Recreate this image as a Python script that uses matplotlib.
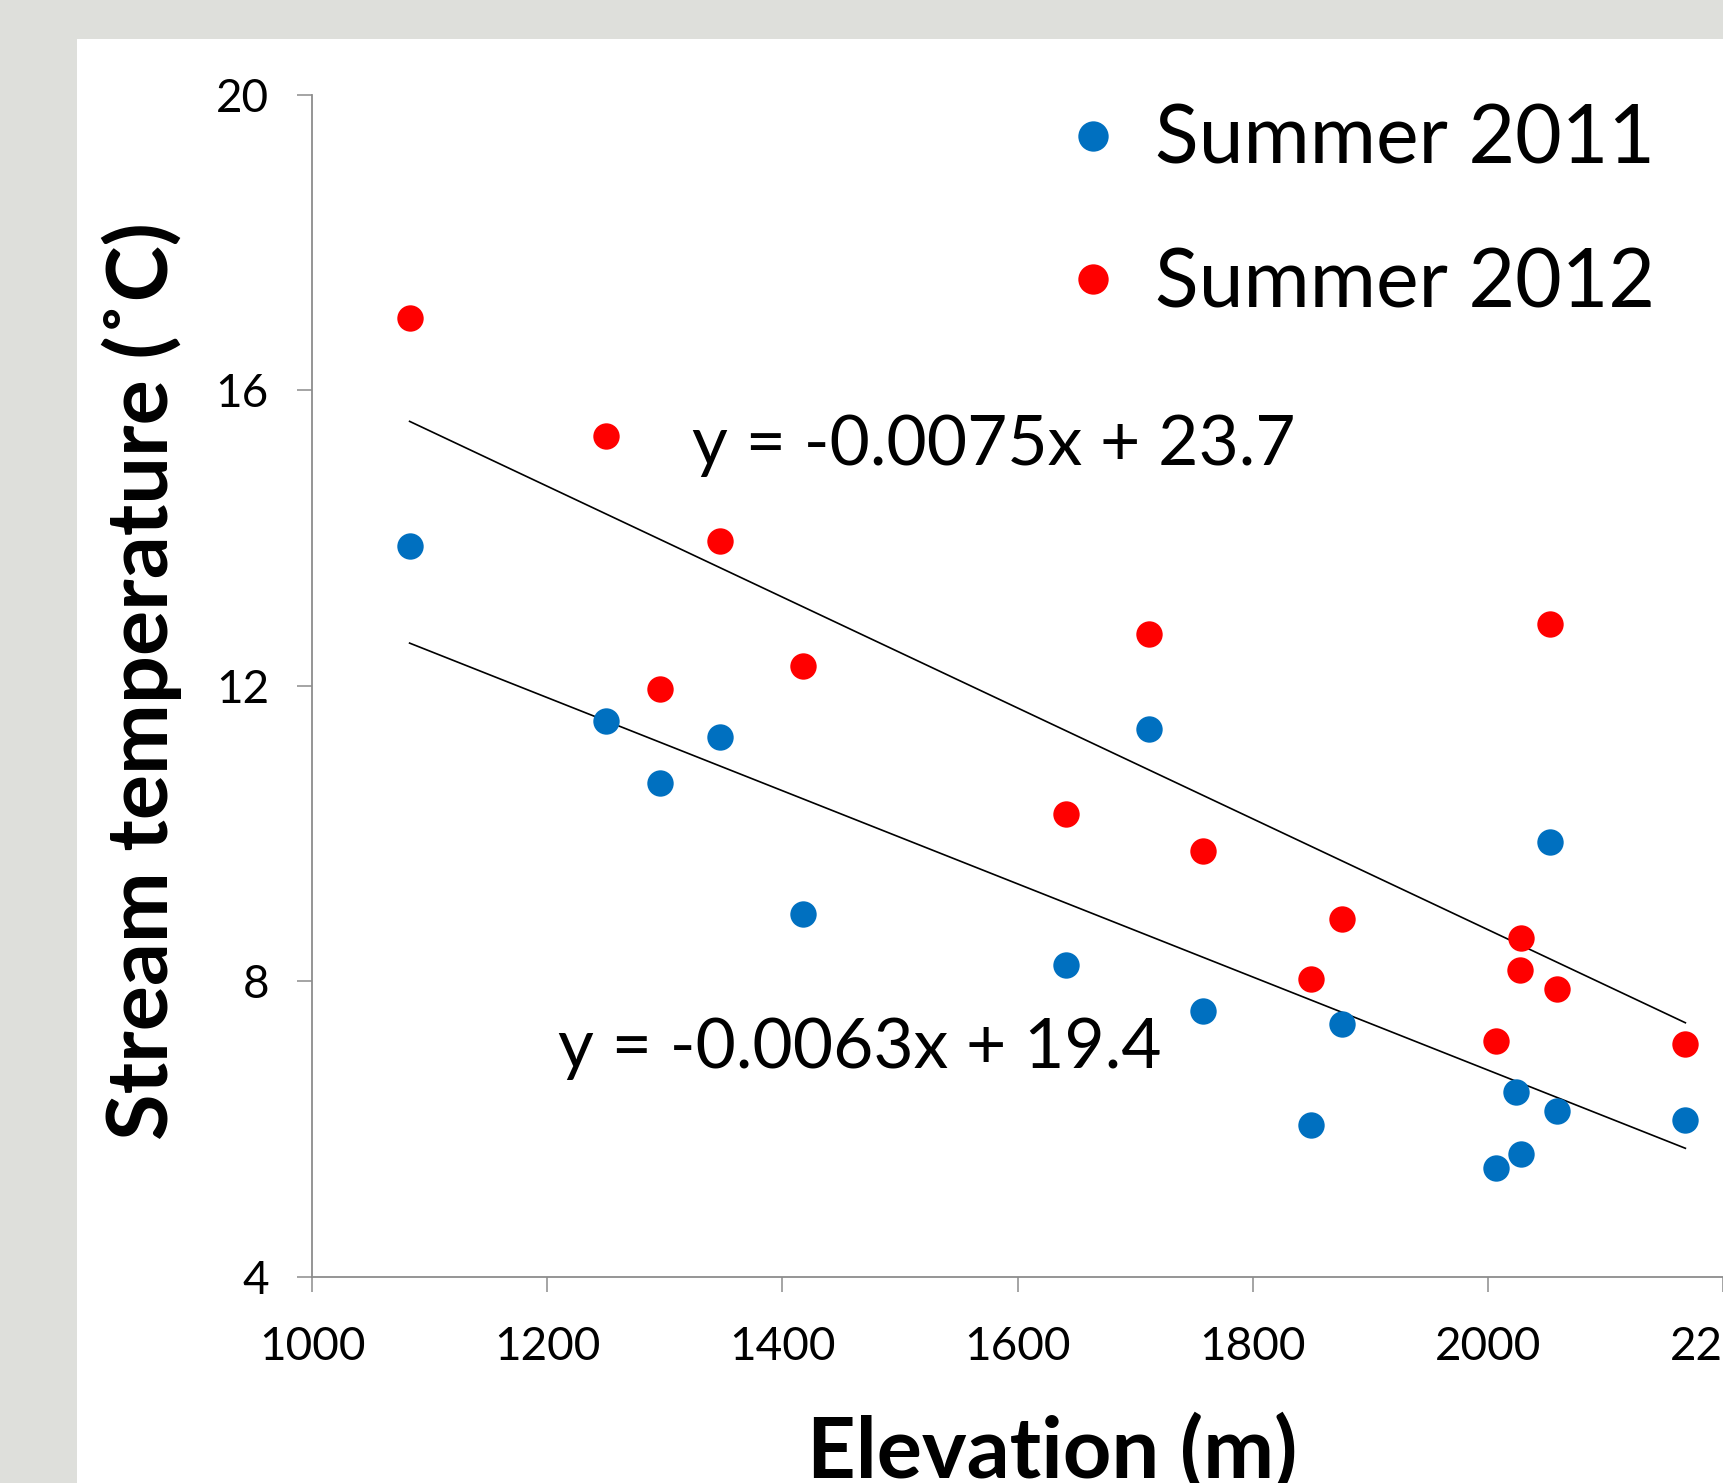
import numpy as np
import matplotlib
matplotlib.use("Agg")
import matplotlib.pyplot as plt
from matplotlib.patches import Rectangle

plt.rcParams['font.family'] = ['Lato', 'DejaVu Sans']

# ---- data ----
elev_2011 = [1083, 1250, 1296, 1347, 1418, 1641, 1712, 1758, 1850, 1876,
             2007, 2024, 2028, 2053, 2059, 2168]
temp_2011 = [13.89, 11.52, 10.69, 11.30, 8.91, 8.22, 11.41, 7.60, 6.05, 7.43,
             5.47, 6.50, 5.67, 9.89, 6.25, 6.13]
elev_2012 = [1083, 1250, 1296, 1347, 1418, 1641, 1712, 1758, 1850, 1876,
             2007, 2027, 2028, 2053, 2059, 2168]
temp_2012 = [16.98, 15.38, 11.96, 13.96, 12.27, 10.26, 12.70, 9.77, 8.03, 8.85,
             7.20, 8.16, 8.59, 12.83, 7.90, 7.15]
series_labels = ["Summer 2011", "Summer 2012"]
fit_2011 = (-0.0063, 19.4)
fit_2012 = (-0.0075, 23.7)
eq_2011 = "y = -0.0063x + 19.4"
eq_2012 = "y = -0.0075x + 23.7"
x_ticks = [1000, 1200, 1400, 1600, 1800, 2000, 2200]
y_ticks = [4, 8, 12, 16, 20]
x_label = "Elevation (m)"
y_label = "Stream temperature (˚C)"

blue = "#0070C0"
red = "#FF0000"

W, H = 1723, 1483
fig = plt.figure(figsize=(W / 100, H / 100), dpi=100)
fig.patch.set_facecolor("#dedfdb")

bg = fig.add_axes([0, 0, 1, 1], zorder=-5)
bg.set_axis_off()
bg.set_xlim(0, 1)
bg.set_ylim(0, 1)
bg.add_patch(Rectangle((77 / W, 0), 1 - 77 / W, 1 - 39 / H,
                       facecolor="white", edgecolor="none"))

ax = fig.add_axes([312 / W, 206 / H, 1 - 312 / W, (1277 - 94.5) / H], zorder=1)
ax.set_facecolor("none")

ms = 19
ax.plot(elev_2011, temp_2011, 'o', color=blue, ms=ms, mec='none',
        label=series_labels[0], zorder=3, clip_on=False)
ax.plot(elev_2012, temp_2012, 'o', color=red, ms=ms, mec='none',
        label=series_labels[1], zorder=3, clip_on=False)

for ex, (m, b) in ((elev_2011, fit_2011), (elev_2012, fit_2012)):
    xs = np.array([min(ex), max(ex)])
    ax.plot(xs, m * xs + b, color='black', lw=1.2, zorder=2)

ax.text(1323, 14.99, eq_2012, fontsize=50, va='baseline', ha='left')
ax.text(1209, 6.83, eq_2011, fontsize=50, va='baseline', ha='left')

ax.set_xlim(1000, 2200)
ax.set_ylim(4, 20)
ax.set_xticks(x_ticks)
ax.set_yticks(y_ticks)
for s in ('top', 'right'):
    ax.spines[s].set_visible(False)
for s in ('left', 'bottom'):
    ax.spines[s].set_color('#8c8c8c')
    ax.spines[s].set_linewidth(1.3)
ax.tick_params(axis='both', direction='out', length=11, width=1.1,
               color='#8c8c8c', labelsize=33)
ax.tick_params(axis='y', pad=20)
ax.tick_params(axis='x', pad=24)

leg = ax.legend(loc='upper right', bbox_to_anchor=(1655 / W, 1 - 104 / H),
                bbox_transform=fig.transFigure, frameon=False, fontsize=58,
                handlelength=0.95, handletextpad=0.3, labelspacing=0.86,
                markerscale=1.15, borderaxespad=0, borderpad=0)

fig.text(1052 / W, 5 / H, x_label, fontsize=61, fontweight='bold',
         ha='center', va='baseline')
fig.text(142 / W, 1 - 681 / H, y_label, fontsize=61, fontweight='bold',
         rotation=90, ha='center', va='center')

fig.savefig("out.png", dpi=100, facecolor=fig.get_facecolor())
